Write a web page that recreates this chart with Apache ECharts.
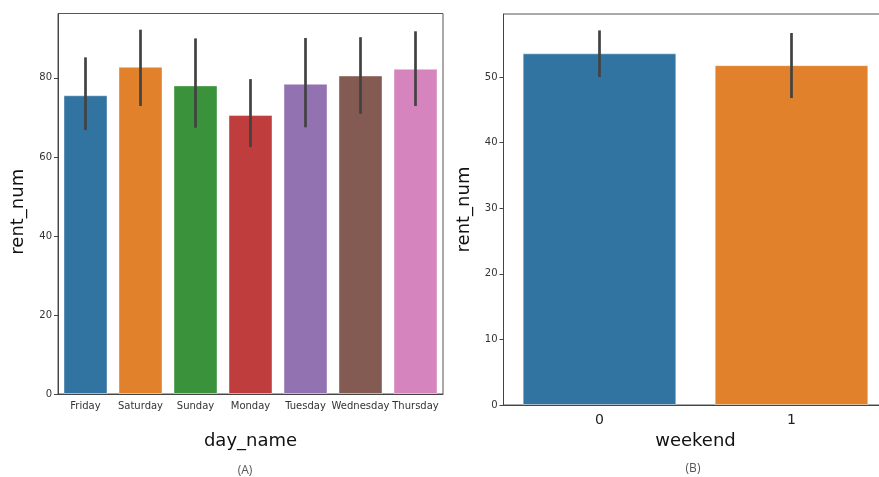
<!DOCTYPE html>
<html><head><meta charset="utf-8">
<script src="https://cdn.jsdelivr.net/npm/echarts@6/dist/echarts.min.js"></script>
<style>html,body{margin:0;padding:0;background:#fff}#c{width:879px;height:477px}</style>
</head><body><div id="c"></div>
<script>
const days = ['Friday','Saturday','Sunday','Monday','Tuesday','Wednesday','Thursday'];
const dayMeans = [75.6, 82.8, 78.1, 70.6, 78.5, 80.6, 82.3];
const dayLow = [66.8, 72.9, 67.4, 62.5, 67.5, 70.9, 72.9];
const dayHigh = [85.2, 92.2, 90.0, 79.7, 90.1, 90.3, 91.8];
const dayColors = ['#3274a1','#e1812c','#3a923a','#c03d3e','#9372b2','#845b53','#d684bd'];

const weekendCats = ['0','1'];
const weekendMeans = [53.6, 51.8];
const weekendLow = [50.0, 46.8];
const weekendHigh = [57.1, 56.7];
const weekendColors = ['#3274a1','#e1812c'];

const chart = echarts.init(document.getElementById('c'));
const tickFont = {fontFamily:'DejaVu Sans', fontSize:10, color:'#333'};
const nameFont = {fontFamily:'DejaVu Sans', fontSize:18, color:'#111'};

function errSeries(xi, yi, low, high){
  return {
    type:'custom', xAxisIndex:xi, yAxisIndex:yi, z:10,
    data: low.map((l,i)=>[i,l,high[i]]),
    renderItem:(params, api)=>{
      const p1 = api.coord([api.value(0), api.value(1)]);
      const p2 = api.coord([api.value(0), api.value(2)]);
      return {type:'line', shape:{x1:p1[0],y1:p1[1],x2:p2[0],y2:p2[1]},
        style:{stroke:'#424242', lineWidth:2.7}};
    }
  };
}

chart.setOption({
  animation:false,
  title:[
    {text:'(A)', left:240, top:460, textAlign:'center',
     textStyle:{fontFamily:'Open Sans', fontSize:12, fontWeight:'normal', color:'#555'}},
    {text:'(B)', left:688, top:458, textAlign:'center',
     textStyle:{fontFamily:'Open Sans', fontSize:12, fontWeight:'normal', color:'#555'}}
  ],
  grid:[
    {left:58, top:13.5, width:385, height:380.5, show:true, borderColor:'#555', borderWidth:1, outerBoundsMode:'none'},
    {left:503.5, top:14, width:384, height:391, show:true, borderColor:'#555', borderWidth:1, outerBoundsMode:'none'}
  ],
  xAxis:[
    {type:'category', gridIndex:0, data:days, name:'day_name', nameLocation:'middle', nameGap:38,
     nameTextStyle:nameFont,
     axisLine:{lineStyle:{color:'#444'}}, axisTick:{alignWithLabel:true, length:4, lineStyle:{color:'#444'}},
     axisLabel:Object.assign({margin:7, interval:0}, tickFont)},
    {type:'category', gridIndex:1, data:weekendCats, name:'weekend', nameLocation:'middle', nameGap:26,
     nameTextStyle:nameFont,
     axisLine:{lineStyle:{color:'#444'}}, axisTick:{alignWithLabel:true, length:4, lineStyle:{color:'#444'}},
     axisLabel:{margin:8, fontFamily:'DejaVu Sans', fontSize:14, color:'#222'}}
  ],
  yAxis:[
    {type:'value', gridIndex:0, min:0, max:96.3, interval:20, name:'rent_num', nameLocation:'middle', nameGap:31,
     nameTextStyle:Object.assign({padding:[0,16,0,0]}, nameFont), splitLine:{show:false},
     axisLine:{show:true, lineStyle:{color:'#444'}}, axisTick:{show:true, length:4, lineStyle:{color:'#444'}},
     axisLabel:Object.assign({margin:6, showMaxLabel:false}, tickFont)},
    {type:'value', gridIndex:1, min:0, max:59.6, interval:10, name:'rent_num', nameLocation:'middle', nameGap:30,
     nameTextStyle:nameFont, splitLine:{show:false},
     axisLine:{show:true, lineStyle:{color:'#444'}}, axisTick:{show:true, length:4, lineStyle:{color:'#444'}},
     axisLabel:Object.assign({margin:6, showMaxLabel:false}, tickFont)}
  ],
  series:[
    {type:'bar', xAxisIndex:0, yAxisIndex:0, barWidth:'80%',
     data:dayMeans.map((v,i)=>({value:v, itemStyle:{color:dayColors[i]}})),
     itemStyle:{borderColor:'rgba(255,255,255,0.4)', borderWidth:1}},
    errSeries(0,0,dayLow,dayHigh),
    {type:'bar', xAxisIndex:1, yAxisIndex:1, barWidth:'80%',
     data:weekendMeans.map((v,i)=>({value:v, itemStyle:{color:weekendColors[i]}})),
     itemStyle:{borderColor:'rgba(255,255,255,0.4)', borderWidth:1}},
    errSeries(1,1,weekendLow,weekendHigh)
  ]
});
</script></body></html>
